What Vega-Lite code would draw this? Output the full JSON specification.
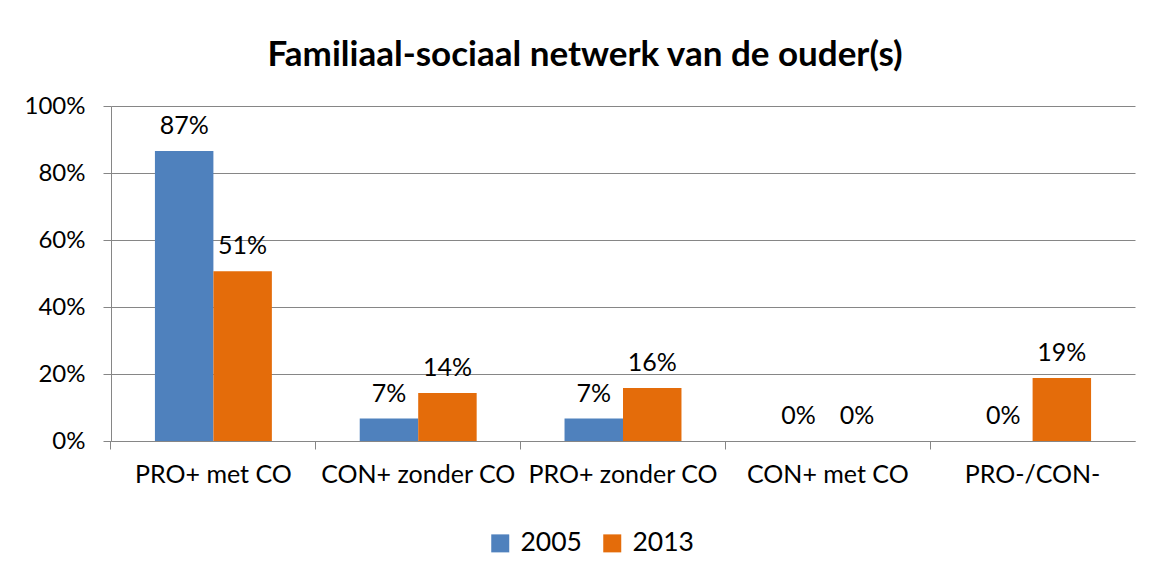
{
  "$schema": "https://vega.github.io/schema/vega-lite/v6.json",
  "autosize": "none",
  "width": 1024,
  "height": 335,
  "padding": {"left": 111, "top": 106, "right": 23, "bottom": 136},
  "background": "white",
  "title": {
    "text": "Familiaal-sociaal netwerk van de ouder(s)",
    "font": "Lato",
    "fontSize": 35,
    "fontWeight": "bold",
    "color": "#000000",
    "anchor": "middle",
    "frame": "group",
    "dx": -38,
    "offset": 21
  },
  "data": {
    "values": [
      {"categorie": "PRO+ met CO", "jaar": "2005", "waarde": 0.866},
      {"categorie": "PRO+ met CO", "jaar": "2013", "waarde": 0.507},
      {"categorie": "CON+ zonder CO", "jaar": "2005", "waarde": 0.067},
      {"categorie": "CON+ zonder CO", "jaar": "2013", "waarde": 0.143},
      {"categorie": "PRO+ zonder CO", "jaar": "2005", "waarde": 0.067},
      {"categorie": "PRO+ zonder CO", "jaar": "2013", "waarde": 0.158},
      {"categorie": "CON+ met CO", "jaar": "2005", "waarde": 0},
      {"categorie": "CON+ met CO", "jaar": "2013", "waarde": 0},
      {"categorie": "PRO-/CON-", "jaar": "2005", "waarde": 0},
      {"categorie": "PRO-/CON-", "jaar": "2013", "waarde": 0.188}
    ]
  },
  "encoding": {
    "x": {
      "field": "categorie",
      "type": "nominal",
      "sort": null,
      "scale": {"paddingInner": 0.429, "paddingOuter": 0.2145},
      "axis": {
        "title": null,
        "labelAngle": 0,
        "labelFont": "Lato",
        "labelFontSize": 25,
        "labelColor": "#000000",
        "labelPadding": 13,
        "labelLimit": 400,
        "labelOverlap": false,
        "labelBound": false,
        "tickSize": 8,
        "tickColor": "#868686",
        "domainColor": "#868686",
        "bandPosition": -0.3757,
        "grid": false
      }
    },
    "xOffset": {"field": "jaar", "type": "nominal", "scale": {"paddingInner": 0, "paddingOuter": 0}},
    "y": {
      "field": "waarde",
      "type": "quantitative",
      "scale": {"domain": [0, 1]},
      "axis": {
        "title": null,
        "format": ".0%",
        "values": [0, 0.2, 0.4, 0.6, 0.8, 1],
        "labelFont": "Lato",
        "labelFontSize": 24,
        "labelColor": "#000000",
        "labelPadding": 18,
        "tickSize": 8,
        "tickColor": "#868686",
        "domainColor": "#868686",
        "gridColor": "#868686",
        "gridWidth": 1
      }
    }
  },
  "layer": [
    {
      "mark": {"type": "bar"},
      "encoding": {
        "color": {
          "field": "jaar",
          "type": "nominal",
          "scale": {"domain": ["2005", "2013"], "range": ["#4F81BD", "#E46C0A"]},
          "legend": {
            "title": null,
            "orient": "none",
            "direction": "horizontal",
            "legendX": 376,
            "legendY": 424,
            "symbolType": "square",
            "symbolSize": 324,
            "symbolStrokeWidth": 0,
            "labelFont": "Lato",
            "labelFontSize": 26.5,
            "labelColor": "#000000",
            "labelOffset": 7,
            "columnPadding": 17
          }
        }
      }
    },
    {
      "mark": {"type": "text", "font": "Lato", "fontSize": 25, "color": "#000000", "baseline": "alphabetic", "dy": -17},
      "encoding": {
        "text": {"field": "waarde", "type": "quantitative", "format": ".0%"}
      }
    }
  ],
  "config": {
    "view": {"stroke": null}
  }
}
